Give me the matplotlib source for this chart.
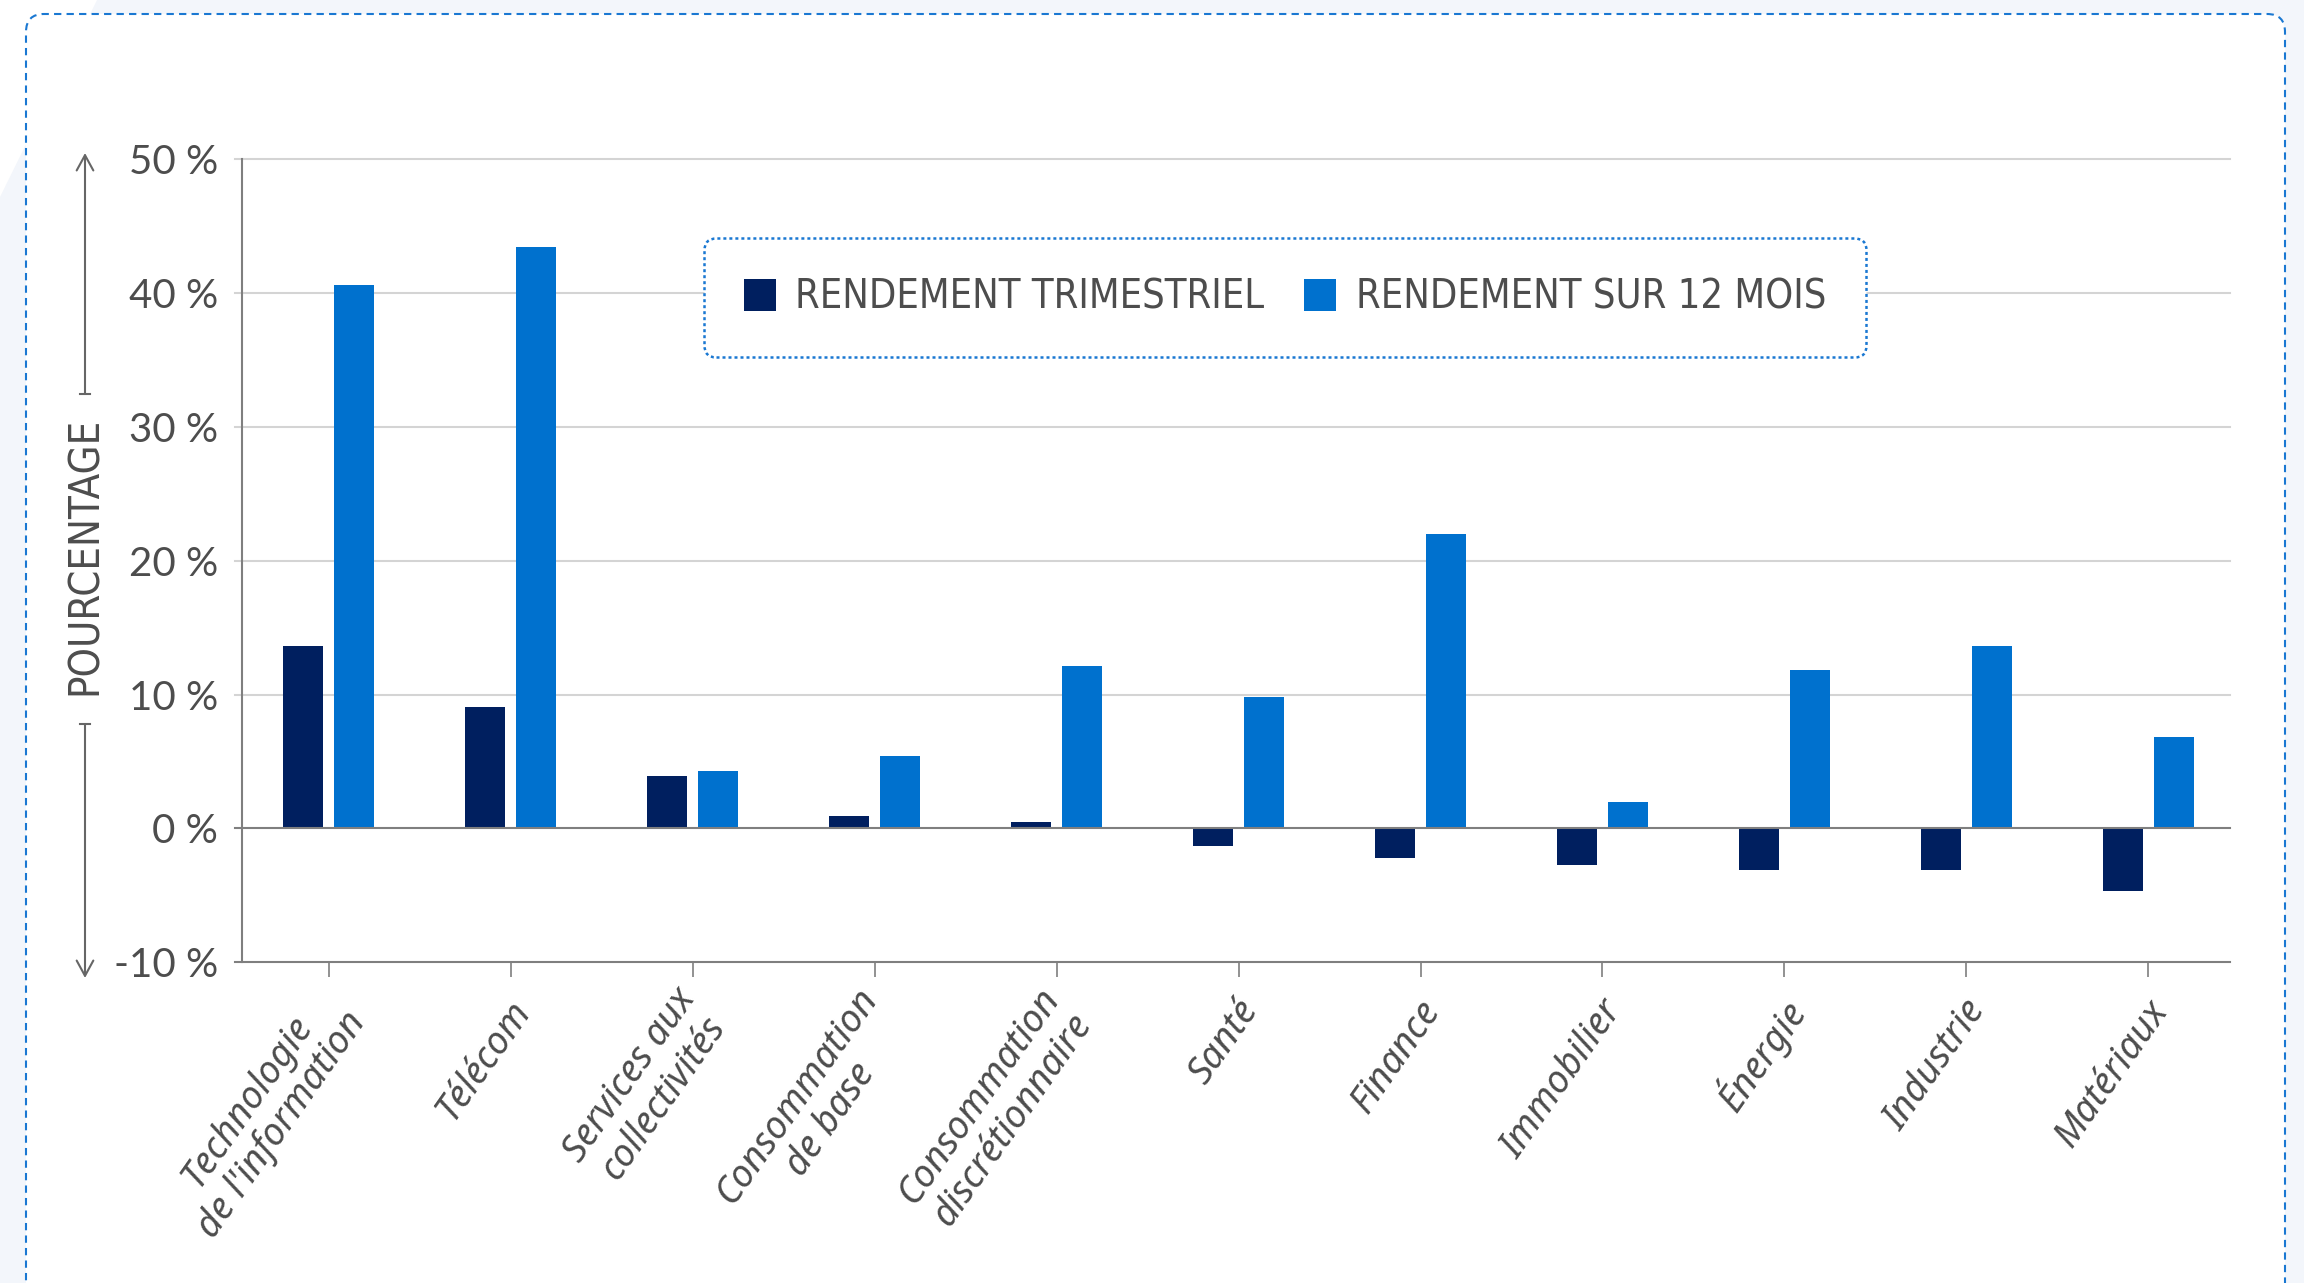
import numpy as np
import matplotlib
matplotlib.use("Agg")
import matplotlib.pyplot as plt
import matplotlib.transforms as mtransforms
from matplotlib.patches import FancyBboxPatch, FancyArrowPatch, Patch, Polygon
from matplotlib.lines import Line2D

# -------------------------------
# Data
# -------------------------------
sectors = [
    "Technologie\nde l'information",
    "Télécom",
    "Services aux\ncollectivités",
    "Consommation\nde base",
    "Consommation\ndiscrétionnaire",
    "Santé",
    "Finance",
    "Immobilier",
    "Énergie",
    "Industrie",
    "Matériaux",
]
rend_trimestriel = [13.6, 9.1, 3.9, 0.9, 0.5, -1.3, -2.2, -2.7, -3.1, -3.1, -4.7]
rend_12_mois = [40.6, 43.4, 4.3, 5.4, 12.1, 9.8, 22.0, 2.0, 11.8, 13.6, 6.8]
y_ticks = [-10, 0, 10, 20, 30, 40, 50]
y_tick_labels = [f"{v} %" for v in y_ticks]
legend_labels = ["RENDEMENT TRIMESTRIEL", "RENDEMENT SUR 12 MOIS"]

# colours
DARK = "#001f5f"
LIGHT = "#0071ce"
TEXT = "#4d4d4d"
GRID = "#d4d4d4"
AXIS = "#7f7f7f"
DASH = "#1a78d2"
BG = "#f3f6fb"

W, H = 23.04, 12.83
fig = plt.figure(figsize=(W, H), dpi=100, facecolor=BG)
inch = fig.dpi_scale_trans

# background: white corner triangle + white dashed card
fig.patches.append(Polygon([(0, H), (0.97, H), (0, H - 1.97)], closed=True,
                           transform=inch, facecolor="white", edgecolor="none", zorder=0))
card = FancyBboxPatch((0.26, -0.3), 22.85 - 0.26, H - 0.14 + 0.3,
                      boxstyle="round,pad=0,rounding_size=0.18", transform=inch,
                      facecolor="white", edgecolor=DASH, linewidth=1.5,
                      linestyle=(0, (3.5, 2.5)), zorder=1)
fig.patches.append(card)

ax = fig.add_axes([0.105, 0.250, 0.863, 0.626])
ax.set_facecolor("none")
ax.set_zorder(2)

x = np.arange(len(sectors))
bar_w = 0.22
off = 0.14
ax.bar(x - off, rend_trimestriel, bar_w, color=DARK, zorder=3, label=legend_labels[0])
ax.bar(x + off, rend_12_mois, bar_w, color=LIGHT, zorder=3, label=legend_labels[1])

ax.set_ylim(-10, 50)
ax.set_xlim(-0.477, 10.45)

# gridlines, reaching a little left of the spine
ext = -0.0035
for v in y_ticks:
    if v in (0, -10):
        ax.axhline(v, xmin=ext, xmax=1, color=AXIS, lw=1.5, zorder=4, clip_on=False)
    else:
        ax.axhline(v, xmin=ext, xmax=1, color=GRID, lw=1.5, zorder=1, clip_on=False)

for s in ["top", "right", "bottom"]:
    ax.spines[s].set_visible(False)
ax.spines["left"].set_color(AXIS)
ax.spines["left"].set_linewidth(1.5)

ax.set_yticks(y_ticks)
ax.set_yticklabels(y_tick_labels, family=["Lato", "DejaVu Sans"], fontsize=29, color=TEXT)
ax.tick_params(axis="y", length=0, pad=17)

ax.set_xticks(x)
ax.set_xticklabels(sectors, rotation=55, ha="right", va="center", rotation_mode="anchor",
                   fontsize=27, family=["Noto Sans", "DejaVu Sans"], style="italic",
                   color=TEXT, linespacing=1.1, multialignment="center")
ax.tick_params(axis="x", length=11, width=1.2, color=AXIS, pad=19)
shift = mtransforms.ScaledTranslation(0.12, 0, inch)
for lbl in ax.get_xticklabels():
    lbl.set_transform(lbl.get_transform() + shift)

# legend in a dotted rounded box
handles = [Patch(facecolor=DARK), Patch(facecolor=LIGHT)]
leg = ax.legend(handles, legend_labels, ncol=2, loc="center",
                bbox_to_anchor=(0.5577, 0.768), bbox_transform=fig.transFigure,
                prop={"family": "DejaVu Sans", "stretch": "condensed", "size": 28.5},
                labelcolor=TEXT, handlelength=0.8, handleheight=0.85,
                handletextpad=0.5, columnspacing=1.0, borderpad=1.0,
                frameon=True, fancybox=True, borderaxespad=0)
frame = leg.get_frame()
frame.set_boxstyle("round,pad=0,rounding_size=0.3")
frame.set_edgecolor(DASH)
frame.set_linewidth(1.8)
frame.set_linestyle((0, (1.2, 1.2)))
frame.set_facecolor("white")
frame.set_alpha(None)

# y axis title with split arrow
ax_x = 0.85
fig.text(ax_x / W, 7.27 / H, "POURCENTAGE", rotation=90, ha="center", va="center",
         fontsize=30, color=TEXT, family="DejaVu Sans", stretch="condensed", zorder=5)
arrow_kw = dict(arrowstyle="->,head_length=0.55,head_width=0.3", color="#666666", lw=1.5,
                mutation_scale=20, transform=inch, zorder=5, shrinkA=0, shrinkB=0)
fig.add_artist(FancyArrowPatch((ax_x, 8.89), (ax_x, 11.30), **arrow_kw))
fig.add_artist(FancyArrowPatch((ax_x, 5.59), (ax_x, 3.05), **arrow_kw))
for yy in (8.89, 5.59):
    fig.add_artist(Line2D([ax_x - 0.05, ax_x + 0.05], [yy, yy], transform=inch,
                          color="#666666", lw=1.5, zorder=5))

fig.savefig("out.png", dpi=100, facecolor=BG)
